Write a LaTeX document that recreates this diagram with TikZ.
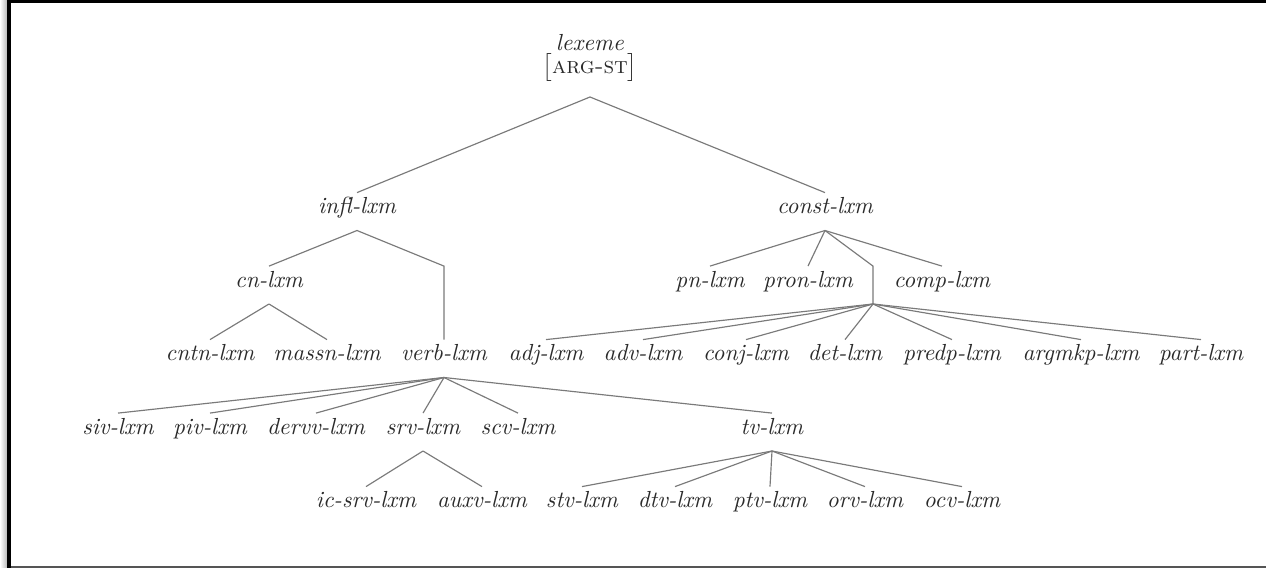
\documentclass[tikz,border=0pt]{standalone}
\usepackage{xcolor}
\usepackage{tikz}
\definecolor{framegray}{HTML}{555555}
\definecolor{edgegray}{HTML}{7A7A7A}
\definecolor{textgray}{HTML}{2A2A2A}

\begin{document}
\begin{tikzpicture}[x=0.43pt, y=-0.43pt,
    lx/.style={font=\itshape, text=textgray, text height=8pt, text depth=5.9pt, inner xsep=2pt, inner ysep=1pt, anchor=base},
    br/.style={draw=edgegray, line width=0.5pt}]
    \useasboundingbox (0,0) rectangle (1266,568);
    % Frame
    \shade [left color=white, right color=gray!55] (0,0) rectangle (7,568);
    \fill [black] (7,0) rectangle (11,568);
    \fill [black] (7,0) rectangle (1266,3.3);
    \fill [framegray] (11,566) rectangle (1266,568);

    % Nodes
    \node (lexeme) [anchor=south, align=center, inner ysep=6.4pt, text=textgray] at (590,97) {\textit{lexeme}\\[-2pt]$\bigl[$\textsc{arg-st}$\bigr]$};

    \node (infl) [lx] at (357,214) {infl-lxm};
    \node (const) [lx] at (825,214) {const-lxm};

    \node (cn) [lx] at (269,287.5) {cn-lxm};
    \node (vdum) [lx] at (444,287.5) {};
    \node (pn) [lx] at (710,287.5) {pn-lxm};
    \node (pron) [lx] at (808,287.5) {pron-lxm};
    \node (cdum) [lx] at (873,287.5) {};
    \node (comp) [lx] at (942,287.5) {comp-lxm};

    \node (cntn) [lx] at (210,361) {cntn-lxm};
    \node (massn) [lx] at (327,361) {massn-lxm};
    \node (verb) [lx] at (444,361) {verb-lxm};
    \node (adj) [lx] at (546,361) {adj-lxm};
    \node (adv) [lx] at (643,361) {adv-lxm};
    \node (conj) [lx] at (746,361) {conj-lxm};
    \node (det) [lx] at (845,361) {det-lxm};
    \node (predp) [lx] at (952,361) {predp-lxm};
    \node (argmkp) [lx] at (1081,361) {argmkp-lxm};
    \node (part) [lx] at (1201,361) {part-lxm};

    \node (siv) [lx] at (118,434.5) {siv-lxm};
    \node (piv) [lx] at (210,434.5) {piv-lxm};
    \node (dervv) [lx] at (316,434.5) {dervv-lxm};
    \node (srv) [lx] at (423,434.5) {srv-lxm};
    \node (scv) [lx] at (518,434.5) {scv-lxm};
    \node (tv) [lx] at (772,434.5) {tv-lxm};

    \node (icsrv) [lx] at (366,508) {ic-srv-lxm};
    \node (auxv) [lx] at (482,508) {auxv-lxm};
    \node (stv) [lx] at (582,508) {stv-lxm};
    \node (dtv) [lx] at (675,508) {dtv-lxm};
    \node (ptv) [lx] at (770,508) {ptv-lxm};
    \node (orv) [lx] at (865,508) {orv-lxm};
    \node (ocv) [lx] at (962,508) {ocv-lxm};

    % Branches
    \draw [br] (lexeme.south) -- (infl.north);
    \draw [br] (lexeme.south) -- (const.north);

    \draw [br] (infl.south) -- (cn.north);
    \draw [br] (infl.south) -- (vdum.north) -- (verb.north);
    \draw [br] (const.south) -- (pn.north);
    \draw [br] (const.south) -- (pron.north);
    \draw [br] (const.south) -- (cdum.north) -- (cdum.south);
    \draw [br] (const.south) -- (comp.north);

    \draw [br] (cn.south) -- (cntn.north);
    \draw [br] (cn.south) -- (massn.north);
    \draw [br] (cdum.south) -- (adj.north);
    \draw [br] (cdum.south) -- (adv.north);
    \draw [br] (cdum.south) -- (conj.north);
    \draw [br] (cdum.south) -- (det.north);
    \draw [br] (cdum.south) -- (predp.north);
    \draw [br] (cdum.south) -- (argmkp.north);
    \draw [br] (cdum.south) -- (part.north);

    \draw [br] (verb.south) -- (siv.north);
    \draw [br] (verb.south) -- (piv.north);
    \draw [br] (verb.south) -- (dervv.north);
    \draw [br] (verb.south) -- (srv.north);
    \draw [br] (verb.south) -- (scv.north);
    \draw [br] (verb.south) -- (tv.north);

    \draw [br] (srv.south) -- (icsrv.north);
    \draw [br] (srv.south) -- (auxv.north);
    \draw [br] (tv.south) -- (stv.north);
    \draw [br] (tv.south) -- (dtv.north);
    \draw [br] (tv.south) -- (ptv.north);
    \draw [br] (tv.south) -- (orv.north);
    \draw [br] (tv.south) -- (ocv.north);
\end{tikzpicture}
\end{document}
